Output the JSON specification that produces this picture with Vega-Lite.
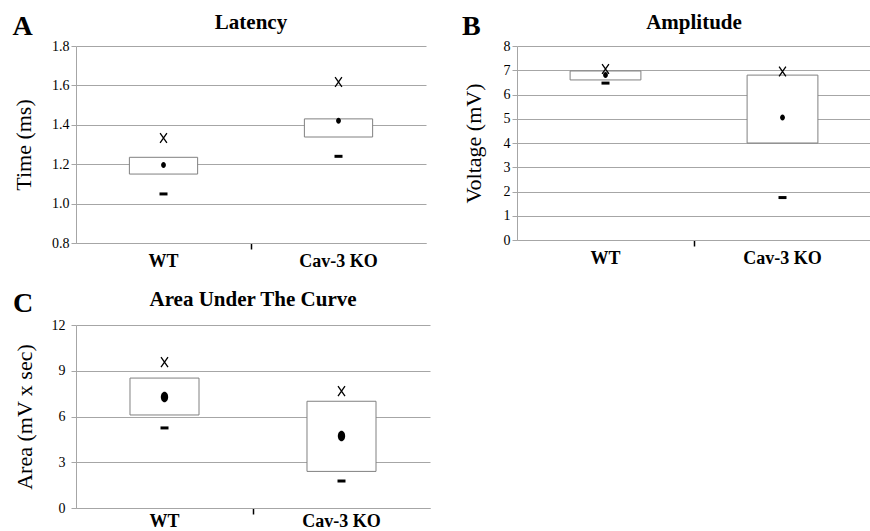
{
  "$schema": "https://vega.github.io/schema/vega-lite/v6.json",
  "background": "white",
  "padding": {"left": 12, "top": 12, "right": 0, "bottom": 0},
  "autosize": {"type": "pad"},
  "datasets": {
    "latency": [
      {"group": "WT", "box_low": 1.15, "box_high": 1.235, "mean": 1.196, "max": 1.333, "min": 1.049},
      {"group": "Cav-3 KO", "box_low": 1.338, "box_high": 1.43, "mean": 1.42, "max": 1.617, "min": 1.24}
    ],
    "amplitude": [
      {"group": "WT", "box_low": 6.6, "box_high": 6.97, "mean": 6.8, "max": 7.05, "min": 6.47},
      {"group": "Cav-3 KO", "box_low": 4.0, "box_high": 6.8, "mean": 5.05, "max": 6.95, "min": 1.75}
    ],
    "auc": [
      {"group": "WT", "box_low": 6.1, "box_high": 8.52, "mean": 7.28, "max": 9.57, "min": 5.25},
      {"group": "Cav-3 KO", "box_low": 2.4, "box_high": 7.0, "mean": 4.72, "max": 7.67, "min": 1.77}
    ]
  },
  "spacing": 19,
  "vconcat": [
    {
      "spacing": 36,
      "hconcat": [
        {
          "title": {"text": "A", "anchor": "start", "frame": "bounds", "fontSize": 28, "offset": -29},
          "vconcat": [
            {
              "title": {"text": "Latency", "offset": 6},
              "width": 350,
              "height": 197,
              "data": {"name": "latency"},
              "encoding": {
                "x": {"field": "group", "type": "nominal", "sort": ["WT", "Cav-3 KO"], "title": null,
                  "scale": {"paddingInner": 0, "paddingOuter": 0},
                  "axis": {"bandPosition": 0, "labelFont": "Liberation Serif, Times New Roman, serif", "labelFontSize": 18, "labelFontWeight": "bold", "labelColor": "black", "labelPadding": 3, "labelAngle": 0,
                    "tickOpacity": {"condition": {"test": "datum.value === 'Cav-3 KO'", "value": 1}, "value": 0}}}
              },
              "layer": [
                {"mark": {"type": "bar", "width": {"band": 0.39}, "fill": "white", "stroke": "#808080", "strokeWidth": 1},
                 "encoding": {
                   "y": {"field": "box_low", "type": "quantitative", "title": "Time (ms)",
                     "scale": {"domain": [0.8, 1.8], "zero": false, "nice": false},
                     "axis": {"values": [0.8, 1.0, 1.2, 1.4, 1.6, 1.8], "format": ".1f", "labelOverlap": false, "titlePadding": 16, "labelFont": "Liberation Serif, Times New Roman, serif", "labelFontSize": 14, "labelColor": "black", "titleFont": "Liberation Serif, Times New Roman, serif", "titleFontSize": 22, "titleFontWeight": "normal", "titleColor": "black"}},
                   "y2": {"field": "box_high"}}},
                {"mark": {"type": "point", "shape": "M-0.7,-1L0.7,1M-0.7,1L0.7,-1", "filled": false, "stroke": "black", "strokeWidth": 1.3, "size": 95, "opacity": 1},
                 "encoding": {"y": {"field": "max", "type": "quantitative", "title": "Time (ms)",
                     "axis": {"values": [0.8, 1.0, 1.2, 1.4, 1.6, 1.8], "format": ".1f", "labelOverlap": false, "titlePadding": 16, "labelFont": "Liberation Serif, Times New Roman, serif", "labelFontSize": 14, "labelColor": "black", "titleFont": "Liberation Serif, Times New Roman, serif", "titleFontSize": 22, "titleFontWeight": "normal", "titleColor": "black"}}}},
                {"mark": {"type": "tick", "size": 8, "thickness": 3, "color": "black", "opacity": 1},
                 "encoding": {"y": {"field": "min", "type": "quantitative", "title": "Time (ms)",
                     "axis": {"values": [0.8, 1.0, 1.2, 1.4, 1.6, 1.8], "format": ".1f", "labelOverlap": false, "titlePadding": 16, "labelFont": "Liberation Serif, Times New Roman, serif", "labelFontSize": 14, "labelColor": "black", "titleFont": "Liberation Serif, Times New Roman, serif", "titleFontSize": 22, "titleFontWeight": "normal", "titleColor": "black"}}}},
                {"mark": {"type": "point", "shape": "M0,-1A0.8,1 0 1,1 0,1A0.8,1 0 1,1 0,-1Z", "filled": true, "color": "black", "size": 36, "opacity": 1},
                 "encoding": {"y": {"field": "mean", "type": "quantitative", "title": "Time (ms)",
                     "axis": {"values": [0.8, 1.0, 1.2, 1.4, 1.6, 1.8], "format": ".1f", "labelOverlap": false, "titlePadding": 16, "labelFont": "Liberation Serif, Times New Roman, serif", "labelFontSize": 14, "labelColor": "black", "titleFont": "Liberation Serif, Times New Roman, serif", "titleFontSize": 22, "titleFontWeight": "normal", "titleColor": "black"}}}}
              ]
            }
          ]
        },
        {
          "title": {"text": "B", "anchor": "start", "frame": "bounds", "fontSize": 28, "offset": -29},
          "vconcat": [
            {
              "title": {"text": "Amplitude", "offset": 6},
              "width": 354,
              "height": 194,
              "data": {"name": "amplitude"},
              "encoding": {
                "x": {"field": "group", "type": "nominal", "sort": ["WT", "Cav-3 KO"], "title": null,
                  "scale": {"paddingInner": 0, "paddingOuter": 0},
                  "axis": {"bandPosition": 0, "labelFont": "Liberation Serif, Times New Roman, serif", "labelFontSize": 18, "labelFontWeight": "bold", "labelColor": "black", "labelPadding": 3, "labelAngle": 0,
                    "tickOpacity": {"condition": {"test": "datum.value === 'Cav-3 KO'", "value": 1}, "value": 0}}}
              },
              "layer": [
                {"mark": {"type": "bar", "width": {"band": 0.4}, "fill": "white", "stroke": "#808080", "strokeWidth": 1},
                 "encoding": {
                   "y": {"field": "box_low", "type": "quantitative", "title": "Voltage (mV)",
                     "scale": {"domain": [0, 8], "zero": false, "nice": false},
                     "axis": {"values": [0, 1, 2, 3, 4, 5, 6, 7, 8], "format": "d", "labelOverlap": false, "titlePadding": 18, "labelFont": "Liberation Serif, Times New Roman, serif", "labelFontSize": 14, "labelColor": "black", "titleFont": "Liberation Serif, Times New Roman, serif", "titleFontSize": 22, "titleFontWeight": "normal", "titleColor": "black"}},
                   "y2": {"field": "box_high"}}},
                {"mark": {"type": "point", "shape": "M-0.7,-1L0.7,1M-0.7,1L0.7,-1", "filled": false, "stroke": "black", "strokeWidth": 1.3, "size": 95, "opacity": 1},
                 "encoding": {"y": {"field": "max", "type": "quantitative", "title": "Voltage (mV)",
                     "axis": {"values": [0, 1, 2, 3, 4, 5, 6, 7, 8], "format": "d", "labelOverlap": false, "titlePadding": 18, "labelFont": "Liberation Serif, Times New Roman, serif", "labelFontSize": 14, "labelColor": "black", "titleFont": "Liberation Serif, Times New Roman, serif", "titleFontSize": 22, "titleFontWeight": "normal", "titleColor": "black"}}}},
                {"mark": {"type": "tick", "size": 8, "thickness": 3, "color": "black", "opacity": 1},
                 "encoding": {"y": {"field": "min", "type": "quantitative", "title": "Voltage (mV)",
                     "axis": {"values": [0, 1, 2, 3, 4, 5, 6, 7, 8], "format": "d", "labelOverlap": false, "titlePadding": 18, "labelFont": "Liberation Serif, Times New Roman, serif", "labelFontSize": 14, "labelColor": "black", "titleFont": "Liberation Serif, Times New Roman, serif", "titleFontSize": 22, "titleFontWeight": "normal", "titleColor": "black"}}}},
                {"mark": {"type": "point", "shape": "M0,-1A0.8,1 0 1,1 0,1A0.8,1 0 1,1 0,-1Z", "filled": true, "color": "black", "size": 36, "opacity": 1},
                 "encoding": {"y": {"field": "mean", "type": "quantitative", "title": "Voltage (mV)",
                     "axis": {"values": [0, 1, 2, 3, 4, 5, 6, 7, 8], "format": "d", "labelOverlap": false, "titlePadding": 18, "labelFont": "Liberation Serif, Times New Roman, serif", "labelFontSize": 14, "labelColor": "black", "titleFont": "Liberation Serif, Times New Roman, serif", "titleFontSize": 22, "titleFontWeight": "normal", "titleColor": "black"}}}}
              ]
            }
          ]
        }
      ]
    },
    {
      "title": {"text": "C", "anchor": "start", "frame": "bounds", "fontSize": 28, "offset": -29},
      "vconcat": [
        {
          "title": {"text": "Area Under The Curve"},
          "width": 354,
          "height": 183,
          "data": {"name": "auc"},
          "encoding": {
            "x": {"field": "group", "type": "nominal", "sort": ["WT", "Cav-3 KO"], "title": null,
              "scale": {"paddingInner": 0, "paddingOuter": 0},
              "axis": {"bandPosition": 0, "labelFont": "Liberation Serif, Times New Roman, serif", "labelFontSize": 18, "labelFontWeight": "bold", "labelColor": "black", "labelPadding": -2, "labelAngle": 0,
                "tickOpacity": {"condition": {"test": "datum.value === 'Cav-3 KO'", "value": 1}, "value": 0}}}
          },
          "layer": [
            {"mark": {"type": "bar", "width": {"band": 0.39}, "fill": "white", "stroke": "#808080", "strokeWidth": 1},
             "encoding": {
               "y": {"field": "box_low", "type": "quantitative", "title": "Area (mV x sec)",
                 "scale": {"domain": [0, 12], "zero": false, "nice": false},
                 "axis": {"values": [0, 3, 6, 9, 12], "format": "d", "labelOverlap": false, "labelPadding": 6, "titlePadding": 15, "labelFont": "Liberation Serif, Times New Roman, serif", "labelFontSize": 14, "labelColor": "black", "titleFont": "Liberation Serif, Times New Roman, serif", "titleFontSize": 22, "titleFontWeight": "normal", "titleColor": "black"}},
               "y2": {"field": "box_high"}}},
            {"mark": {"type": "point", "shape": "M-0.7,-1L0.7,1M-0.7,1L0.7,-1", "filled": false, "stroke": "black", "strokeWidth": 1.3, "size": 100, "opacity": 1},
             "encoding": {"y": {"field": "max", "type": "quantitative", "title": "Area (mV x sec)",
                 "axis": {"values": [0, 3, 6, 9, 12], "format": "d", "labelOverlap": false, "labelPadding": 6, "titlePadding": 15, "labelFont": "Liberation Serif, Times New Roman, serif", "labelFontSize": 14, "labelColor": "black", "titleFont": "Liberation Serif, Times New Roman, serif", "titleFontSize": 22, "titleFontWeight": "normal", "titleColor": "black"}}}},
            {"mark": {"type": "tick", "size": 8, "thickness": 3, "color": "black", "opacity": 1},
             "encoding": {"y": {"field": "min", "type": "quantitative", "title": "Area (mV x sec)",
                 "axis": {"values": [0, 3, 6, 9, 12], "format": "d", "labelOverlap": false, "labelPadding": 6, "titlePadding": 15, "labelFont": "Liberation Serif, Times New Roman, serif", "labelFontSize": 14, "labelColor": "black", "titleFont": "Liberation Serif, Times New Roman, serif", "titleFontSize": 22, "titleFontWeight": "normal", "titleColor": "black"}}}},
            {"mark": {"type": "point", "shape": "M0,-1A0.7,1 0 1,1 0,1A0.7,1 0 1,1 0,-1Z", "filled": true, "color": "black", "size": 110, "opacity": 1},
             "encoding": {"y": {"field": "mean", "type": "quantitative", "title": "Area (mV x sec)",
                 "axis": {"values": [0, 3, 6, 9, 12], "format": "d", "labelOverlap": false, "labelPadding": 6, "titlePadding": 15, "labelFont": "Liberation Serif, Times New Roman, serif", "labelFontSize": 14, "labelColor": "black", "titleFont": "Liberation Serif, Times New Roman, serif", "titleFontSize": 22, "titleFontWeight": "normal", "titleColor": "black"}}}}
          ]
        }
      ]
    }
  ],
  "config": {
    "font": "Liberation Serif, Times New Roman, DejaVu Serif, serif",
    "view": {"stroke": null},
    "title": {"font": "Liberation Serif, Times New Roman, DejaVu Serif, serif", "fontSize": 21, "fontWeight": "bold", "color": "black", "offset": 8},
    "axisY": {
      "grid": true, "gridColor": "#a6a6a6", "gridWidth": 1, "gridOpacity": 1,
      "domainColor": "#a6a6a6", "domainWidth": 1,
      "tickColor": "#a6a6a6", "tickSize": 5, "tickWidth": 1,
      "labelPadding": 2, "titlePadding": 8
    },
    "axisX": {
      "grid": false,
      "domainColor": "#a6a6a6", "domainWidth": 1,
      "tickColor": "black", "tickSize": 6, "tickWidth": 1.5
    }
  }
}
